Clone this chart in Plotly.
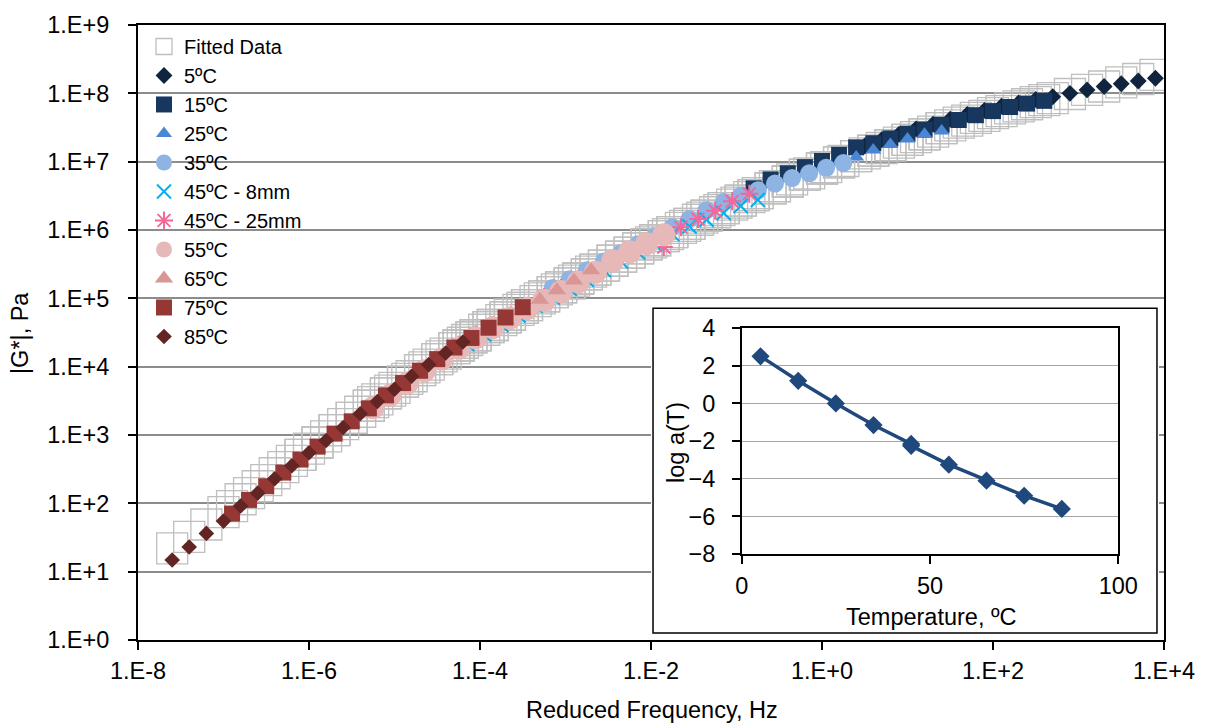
import numpy as np
import plotly.graph_objects as go

# ---------------- data ----------------
freq_hz = [0.01, 0.0158, 0.0251, 0.0398, 0.0631, 0.1, 0.158, 0.251, 0.398, 0.631,
           1.0, 1.58, 2.51, 3.98, 6.31, 10.0, 15.8, 25.1]

series_names = ["5ºC", "15ºC", "25ºC", "35ºC", "45ºC - 8mm", "45ºC - 25mm",
                "55ºC", "65ºC", "75ºC", "85ºC"]
temperature_c = [5, 15, 25, 35, 45, 45, 55, 65, 75, 85]
log_shift_aT = [2.5, 1.2, 0.0, -1.15, -2.15, -2.25, -3.25, -4.1, -4.9, -5.6]

# measured log10 |G*| (Pa) at each test frequency
logG_5C = [7.23, 7.32, 7.40, 7.48, 7.55, 7.62, 7.69, 7.75, 7.81, 7.86, 7.91, 7.95, 8.00, 8.05, 8.10, 8.14, 8.18, 8.22]
logG_15C = [6.61, 6.74, 6.83, 6.92, 7.01, 7.10, 7.21, 7.27, 7.34, 7.41, 7.47, 7.54, 7.61, 7.68, 7.74, 7.80, 7.85, 7.89]
logG_25C = [5.88, 6.00, 6.12, 6.23, 6.35, 6.46, 6.56, 6.66, 6.75, 6.83, 6.91, 6.99, 7.07, 7.17, 7.25, 7.33, 7.40, 7.45]
logG_35C = [5.15, 5.28, 5.41, 5.54, 5.66, 5.79, 5.91, 6.04, 6.16, 6.29, 6.41, 6.50, 6.58, 6.68, 6.76, 6.83, 6.91, 6.98]
logG_45C_8mm = [4.33, 4.47, 4.61, 4.75, 4.89, 5.01, 5.14, 5.27, 5.41, 5.54, 5.67, 5.79, 5.94, 6.05, 6.15, 6.25, 6.35, 6.44]
logG_45C_25mm = [4.32, 4.47, 4.61, 4.75, 4.89, 5.02, 5.15, 5.28, 5.41, 5.54, 5.67, 5.80, 5.75, 6.04, 6.16, 6.28, 6.42, 6.53]
logG_55C = [3.40, 3.58, 3.76, 3.94, 4.11, 4.27, 4.42, 4.57, 4.71, 4.85, 4.97, 5.10, 5.24, 5.38, 5.55, 5.68, 5.80, 5.93]
logG_65C = [2.60, 2.80, 2.98, 3.17, 3.36, 3.54, 3.72, 3.90, 4.08, 4.24, 4.40, 4.54, 4.68, 4.82, 4.98, 5.12, 5.26, 5.41]
logG_75C = [1.85, 2.05, 2.25, 2.45, 2.64, 2.83, 3.02, 3.20, 3.39, 3.58, 3.76, 3.94, 4.11, 4.28, 4.42, 4.57, 4.72, 4.87]
logG_85C = [1.17, 1.36, 1.56, 1.74, 1.96, 2.15, 2.36, 2.55, 2.74, 2.92, 3.11, 3.31, 3.49, 3.67, 3.86, 4.03, 4.20, 4.36]

# fitted master-curve log10 |G*| (Pa) at the same reduced frequencies
fit_5C = [7.12, 7.20, 7.28, 7.36, 7.44, 7.53, 7.60, 7.67, 7.74, 7.81, 7.87, 7.93, 7.99, 8.05, 8.10, 8.16, 8.21, 8.27]
fit_15C = [6.51, 6.61, 6.71, 6.81, 6.90, 6.99, 7.08, 7.16, 7.24, 7.32, 7.40, 7.49, 7.57, 7.64, 7.71, 7.78, 7.84, 7.90]
fit_25C = [5.82, 5.94, 6.06, 6.18, 6.29, 6.40, 6.51, 6.61, 6.71, 6.81, 6.90, 6.99, 7.08, 7.16, 7.24, 7.32, 7.40, 7.49]
fit_35C = [5.09, 5.22, 5.35, 5.48, 5.61, 5.73, 5.85, 5.97, 6.09, 6.21, 6.32, 6.43, 6.54, 6.64, 6.74, 6.83, 6.92, 7.01]
fit_45C_8mm = [4.39, 4.54, 4.68, 4.83, 4.96, 5.09, 5.22, 5.35, 5.48, 5.61, 5.73, 5.85, 5.97, 6.09, 6.21, 6.32, 6.43, 6.54]
fit_45C_25mm = [4.31, 4.46, 4.61, 4.76, 4.90, 5.03, 5.16, 5.29, 5.42, 5.55, 5.67, 5.79, 5.91, 6.03, 6.15, 6.26, 6.37, 6.48]
fit_55C = [3.48, 3.65, 3.82, 3.99, 4.15, 4.31, 4.46, 4.61, 4.76, 4.90, 5.03, 5.16, 5.29, 5.42, 5.55, 5.67, 5.79, 5.91]
fit_65C = [2.71, 2.89, 3.07, 3.25, 3.43, 3.61, 3.78, 3.95, 4.11, 4.27, 4.43, 4.58, 4.72, 4.86, 5.00, 5.13, 5.26, 5.39]
fit_75C = [1.96, 2.15, 2.34, 2.53, 2.71, 2.89, 3.07, 3.25, 3.43, 3.61, 3.78, 3.95, 4.11, 4.27, 4.43, 4.58, 4.72, 4.86]
fit_85C = [1.34, 1.51, 1.69, 1.87, 2.06, 2.25, 2.44, 2.62, 2.80, 2.98, 3.16, 3.34, 3.52, 3.69, 3.86, 4.03, 4.19, 4.35]

measured = [logG_5C, logG_15C, logG_25C, logG_35C, logG_45C_8mm, logG_45C_25mm,
            logG_55C, logG_65C, logG_75C, logG_85C]
fitted = [fit_5C, fit_15C, fit_25C, fit_35C, fit_45C_8mm, fit_45C_25mm,
          fit_55C, fit_65C, fit_75C, fit_85C]

x_tick_labels = ["1.E-8", "1.E-6", "1.E-4", "1.E-2", "1.E+0", "1.E+2", "1.E+4"]
y_tick_labels = ["1.E+0", "1.E+1", "1.E+2", "1.E+3", "1.E+4", "1.E+5", "1.E+6", "1.E+7", "1.E+8", "1.E+9"]

# ---------------- styles ----------------
styles = [
    dict(symbol="diamond", size=13, color="#10243F"),
    dict(symbol="square", size=16, color="#17375E"),
    dict(symbol="triangle-up", size=14, color="#4A86D4"),
    dict(symbol="circle", size=18, color="#8DB4E2"),
    dict(symbol="x-thin-open", size=14, color="#00B0F0", line=dict(width=2, color="#00B0F0")),
    dict(symbol="asterisk-open", size=15, color="#F4679A", line=dict(width=2, color="#F4679A")),
    dict(symbol="circle", size=23, color="#E6B9B8"),
    dict(symbol="triangle-up", size=16, color="#D99694"),
    dict(symbol="square", size=16, color="#953735"),
    dict(symbol="diamond", size=12, color="#632523"),
]

FONT = "Liberation Sans, Arial, sans-serif"
TICK_FS = 23.5
fig = go.Figure()

# fitted data (all series)
fx, fy = [], []
for aT, fvals in zip(log_shift_aT, fitted):
    fx.extend(list(np.array(freq_hz) * 10 ** aT))
    fy.extend(list(10 ** np.array(fvals)))
fig.add_trace(go.Scatter(
    x=fx, y=fy, mode="markers", name="Fitted Data",
    marker=dict(symbol="square-open", size=31, color="#BFBFBF", line=dict(width=1.3, color="#BFBFBF")),
    xaxis="x", yaxis="y"))

for name, aT, vals, st in zip(series_names, log_shift_aT, measured, styles):
    fig.add_trace(go.Scatter(
        x=np.array(freq_hz) * 10 ** aT, y=10 ** np.array(vals),
        mode="markers", name=name, marker=st, xaxis="x", yaxis="y"))

# white box behind inset (subplot 2)
fig.add_trace(go.Scatter(x=[], y=[], xaxis="x2", yaxis="y2", showlegend=False, hoverinfo="skip"))

# inset: shift factors
fig.add_trace(go.Scatter(
    x=temperature_c, y=log_shift_aT, mode="lines+markers", showlegend=False,
    line=dict(color="#1F497D", width=3.5),
    marker=dict(symbol="diamond", size=14, color="#1F497D"),
    xaxis="x3", yaxis="y3"))

W, H = 1208, 728
ML, MR, MT, MB = 138, 44, 19, 88
PW, PH = W - ML - MR, H - MT - MB


def px_x(p):
    return (p - ML) / PW


def px_y(p):
    return (H - MB - p) / PH


fig.update_layout(
    width=W, height=H,
    margin=dict(l=ML, r=MR, t=MT, b=MB),
    paper_bgcolor="white", plot_bgcolor="white",
    font=dict(family=FONT, size=TICK_FS, color="black"),
    showlegend=True,
    legend=dict(x=px_x(144), y=px_y(21), xanchor="left", yanchor="top",
                font=dict(size=20, family=FONT), bgcolor="rgba(0,0,0,0)",
                borderwidth=0, itemwidth=30),
    xaxis=dict(type="log", range=[-8, 4], domain=[0, 1],
               tickvals=[1e-8, 1e-6, 1e-4, 1e-2, 1e0, 1e2, 1e4], ticktext=x_tick_labels,
               ticks="outside", ticklen=8, tickwidth=2, tickcolor="black",
               showline=True, linecolor="black", linewidth=2, mirror=True,
               showgrid=False, zeroline=False, ticklabelstandoff=1,
               tickfont=dict(size=TICK_FS)),
    yaxis=dict(type="log", range=[0, 9], domain=[0, 1],
               tickvals=[10 ** i for i in range(10)], ticktext=y_tick_labels,
               ticks="outside", ticklen=8, tickwidth=2, tickcolor="black",
               showline=True, linecolor="black", linewidth=2, mirror=True,
               showgrid=True, gridcolor="#8C8C8C", gridwidth=1.5, zeroline=False,
               ticklabelstandoff=14, tickfont=dict(size=TICK_FS)),
    xaxis2=dict(domain=[px_x(651), px_x(1159)], range=[0, 1], anchor="y2",
                showgrid=False, zeroline=False, showline=False, showticklabels=False, ticks=""),
    yaxis2=dict(domain=[px_y(635), px_y(303)], range=[0, 1], anchor="x2",
                showgrid=False, zeroline=False, showline=False, showticklabels=False, ticks=""),
    xaxis3=dict(domain=[px_x(741.7), px_x(1118.3)], range=[0, 100], anchor="y3",
                tickvals=[0, 50, 100], ticks="outside", ticklen=8, tickwidth=1.5, tickcolor="black",
                showline=True, linecolor="black", linewidth=1.5, mirror=True,
                showgrid=False, zeroline=False, ticklabelstandoff=2, tickfont=dict(size=TICK_FS)),
    yaxis3=dict(domain=[px_y(553.3), px_y(325)], range=[-8, 4], anchor="x3",
                tickvals=[-8, -6, -4, -2, 0, 2, 4], ticks="outside", ticklen=8, tickwidth=1.5,
                tickcolor="black", showline=True, linecolor="black", linewidth=1.5, mirror=True,
                showgrid=True, gridcolor="#A6A6A6", gridwidth=1.2, zeroline=False,
                ticklabelstandoff=12, tickfont=dict(size=TICK_FS)),
    shapes=[dict(type="rect", xref="x2", yref="y2", x0=0.004, x1=0.996, y0=0.006, y1=0.994,
                 fillcolor="white", line=dict(color="black", width=1.5), layer="below")],
    annotations=[
        dict(text="|G*|, Pa", textangle=-90, x=px_x(20), y=px_y(330), xref="paper", yref="paper",
             showarrow=False, font=dict(size=TICK_FS), xanchor="center", yanchor="middle"),
        dict(text="Reduced Frequency, Hz", x=px_x(652), y=px_y(711), xref="paper", yref="paper",
             showarrow=False, font=dict(size=TICK_FS), xanchor="center", yanchor="middle"),
        dict(text="log a(T)", textangle=-90, x=px_x(676), y=px_y(441), xref="paper", yref="paper",
             showarrow=False, font=dict(size=TICK_FS), xanchor="center", yanchor="middle"),
        dict(text="Temperature, ºC", x=px_x(931), y=px_y(617), xref="paper", yref="paper",
             showarrow=False, font=dict(size=TICK_FS), xanchor="center", yanchor="middle"),
    ],
)

fig.write_html("out.html", config={"displayModeBar": False},
               post_script="document.body.style.margin='0px';document.body.style.padding='0px';")
